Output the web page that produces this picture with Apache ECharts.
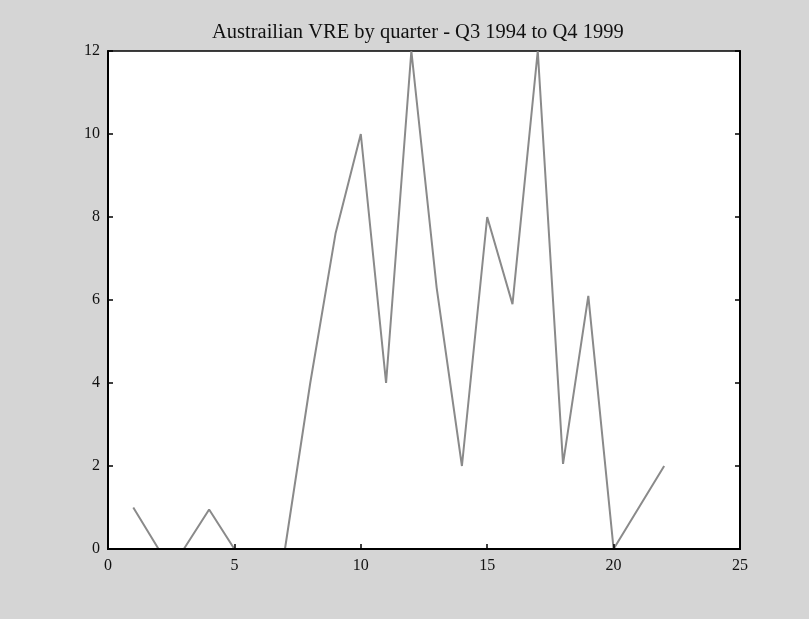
<!DOCTYPE html>
<html>
<head>
<meta charset="utf-8">
<script src="https://cdn.jsdelivr.net/npm/echarts@6/dist/echarts.min.js"></script>
<style>
html,body{margin:0;padding:0;background:#d5d5d5;}
#c{width:809px;height:619px;}
</style>
</head>
<body>
<div id="c"></div>
<script>
const quarters = [1,2,3,4,5,6,7,8,9,10,11,12,13,14,15,16,17,18,19,20,21,22];
const vre = [1,0,0,0.95,0,0,0,4,7.6,10,4,12,6.3,2,8,5.9,12,2.05,6.1,0,1,2];
const xTicks = [0,5,10,15,20,25];
const yTicks = [0,2,4,6,8,10,12];
const titleText = 'Austrailian VRE by quarter - Q3 1994 to Q4 1999';

const chart = echarts.init(document.getElementById('c'));
const font = 'Liberation Serif';
chart.setOption({
  backgroundColor: '#d5d5d5',
  animation: false,
  title: {
    text: titleText, left: 207, top: 17, itemGap: 0,
    textStyle: {fontFamily: font, fontSize: 20.5, fontWeight: 'normal', color: '#111'}
  },
  grid: {left: 108, right: 69, top: 51, bottom: 70, show: true, backgroundColor: '#fff', borderColor: '#000', borderWidth: 1.5},
  xAxis: [{
    type: 'value', min: xTicks[0], max: xTicks[xTicks.length-1], interval: 5, z: 5,
    axisLine: {show: true, lineStyle: {color: '#000', width: 2}},
    axisTick: {show: true, inside: true, length: 5, lineStyle: {color: '#000', width: 1.5}},
    axisLabel: {fontFamily: font, fontSize: 16, color: '#111', margin: 9},
    splitLine: {show: false}
  }],
  yAxis: [{
    type: 'value', min: yTicks[0], max: yTicks[yTicks.length-1], interval: 2, z: 5,
    axisLine: {show: true, lineStyle: {color: '#000', width: 2}},
    axisTick: {show: true, inside: true, length: 5, lineStyle: {color: '#000', width: 1.5}},
    axisLabel: {fontFamily: font, fontSize: 16, color: '#111', margin: 8},
    splitLine: {show: false}
  }, {
    type: 'value', position: 'right', min: yTicks[0], max: yTicks[yTicks.length-1], interval: 2, z: 5,
    axisLine: {show: true, lineStyle: {color: '#000', width: 2}},
    axisTick: {show: true, inside: true, length: 5, lineStyle: {color: '#000', width: 1.5}},
    axisLabel: {show: false},
    splitLine: {show: false}
  }],
  series: [{
    type: 'line', z: 1,
    data: quarters.map((q, i) => [q, vre[i]]),
    showSymbol: false,
    lineStyle: {color: '#8a8a8a', width: 2},
    clip: false
  }]
});
</script>
</body>
</html>
